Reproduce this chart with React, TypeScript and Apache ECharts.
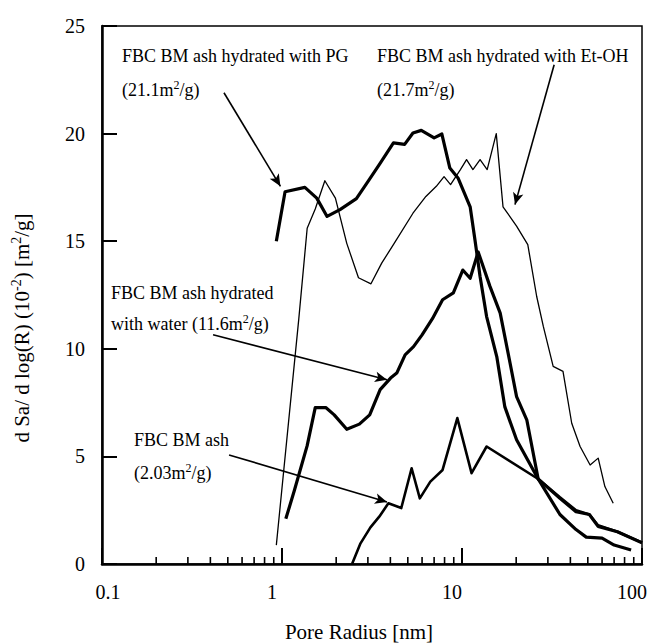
import React, { useEffect, useRef } from "react";
import * as echarts from "echarts";

// ---- data ----
const pgX = [0.93, 1.04, 1.34, 1.56, 1.78, 2.1, 2.59, 3.02, 3.5, 4.16, 4.8, 5.34, 5.94, 7.0, 7.73, 8.56, 9.5, 11.1, 11.8, 12.6, 13.7, 15.6, 17.3, 20.1, 26.5, 35, 43, 49, 60, 70, 87];
const pgY = [15.0, 17.3, 17.5, 17.0, 16.15, 16.47, 16.98, 17.8, 18.6, 19.57, 19.5, 20.03, 20.15, 19.8, 19.98, 18.4, 17.94, 16.6, 15.07, 13.36, 11.5, 9.64, 7.3, 5.77, 3.95, 2.3, 1.6, 1.25, 1.2, 0.88, 0.65];

const waterX = [1.05, 1.17, 1.38, 1.53, 1.75, 1.95, 2.29, 2.69, 3.07, 3.51, 4.01, 4.34, 4.83, 5.38, 6.0, 6.85, 7.8, 8.95, 10.1, 11.1, 12.3, 14.3, 16.3, 18.5, 20.1, 22.9, 26.5, 35, 43, 51, 57, 73, 100];
const waterY = [2.1, 3.4, 5.5, 7.27, 7.27, 6.93, 6.26, 6.5, 6.93, 8.1, 8.64, 8.87, 9.72, 10.1, 10.65, 11.4, 12.28, 12.6, 13.66, 13.28, 14.5, 12.9, 11.66, 9.33, 7.78, 6.7, 3.95, 3.05, 2.43, 2.3, 1.75, 1.5, 0.98];

const ashX = [2.45, 2.73, 3.1, 3.47, 3.9, 4.6, 5.25, 5.83, 6.67, 7.8, 9.42, 11.3, 13.7, 26.5, 35, 43, 51, 57, 73, 100];
const ashY = [0, 0.96, 1.7, 2.2, 2.82, 2.6, 4.45, 3.05, 3.83, 4.37, 6.78, 4.22, 5.46, 3.95, 3.1, 2.5, 2.3, 1.8, 1.5, 1.0];

const etohX = [0.93, 1.24, 1.38, 1.53, 1.73, 1.98, 2.29, 2.66, 3.12, 3.58, 4.2, 5.34, 6.3, 7.2, 7.95, 8.64, 9.8, 10.6, 11.5, 12.6, 13.8, 15.5, 16.9, 20.1, 23.2, 26, 28.3, 32.1, 36.4, 40.7, 45.3, 51.5, 57.1, 62.2, 69.2];
const etohY = [0.88, 11.4, 15.6, 16.5, 17.81, 17.0, 14.9, 13.3, 13.02, 13.98, 14.9, 16.3, 17.08, 17.55, 18.0, 17.63, 18.33, 18.79, 18.33, 18.79, 18.33, 20.0, 16.6, 15.7, 14.84, 12.43, 11.04, 9.18, 8.95, 6.54, 5.46, 4.6, 4.92, 3.6, 2.82];

const minorTickValues = [0.2, 0.3, 0.4, 0.5, 0.6, 0.7, 0.8, 0.9, 2, 3, 4, 5, 6, 7, 8, 9, 20, 30, 40, 50, 60, 70, 80, 90];

// annotation arrows: [fromX, fromY, toX, toY] in data units
const arrowPG = [0.476, 21.9, 0.98, 17.55];
const arrowEtOH = [32.5, 23.2, 19.7, 16.7];
const arrowWater = [0.414, 10.65, 3.83, 8.56];
const arrowAsh = [0.508, 5.07, 3.83, 2.88];

const FONT = "Liberation Serif, serif";

const zip = (xs: number[], ys: number[]) => xs.map((x, i) => [x, ys[i]]);

const richText = {
  a: { fontSize: 18, fontFamily: FONT, lineHeight: 22, fill: "#000" },
  s: { fontSize: 12, fontFamily: FONT, lineHeight: 12, verticalAlign: "top", fill: "#000" },
};

function txt(x: number, y: number, text: string) {
  return {
    type: "text",
    x,
    y,
    silent: true,
    style: {
      text,
      rich: richText,
      fill: "#000",
      fontFamily: FONT,
      fontSize: 18,
      verticalAlign: "middle",
      align: "left",
    },
  };
}

export default function App() {
  const ref = useRef<HTMLDivElement>(null);
  useEffect(() => {
    if (!ref.current) return;
    const chart = echarts.init(ref.current, null, { renderer: "svg" });
    const lineBase = (name: string, xs: number[], ys: number[], width: number) => ({
      name,
      type: "line",
      data: zip(xs, ys),
      symbol: "none",
      smooth: false,
      silent: true,
      lineStyle: { color: "#000", width, join: "round" },
      itemStyle: { color: "#000" },
      z: 3,
    });
    const arrows = [arrowPG, arrowEtOH, arrowWater, arrowAsh];
    const option: any = {
      animation: false,
      backgroundColor: "#fff",
      textStyle: { fontFamily: FONT },
      grid: {
        left: 102,
        top: 26,
        right: 14,
        bottom: 79,
        show: true,
        borderColor: "#000",
        borderWidth: 1.5,
        containLabel: false,
      },
      xAxis: {
        type: "log",
        logBase: 10,
        min: 0.1,
        max: 100,
        axisLine: { show: true, lineStyle: { color: "#000", width: 2.5 } },
        axisTick: { show: true, inside: true, length: 16, lineStyle: { color: "#000", width: 2 } },
        splitLine: { show: false },
        axisLabel: {
          margin: 18,
          color: "#000",
          fontFamily: FONT,
          fontSize: 20,
          formatter: (v: number) => (v < 0.5 ? "{l|0.1}" : "{r|" + Math.round(v) + "}"),
          rich: {
            l: { fontFamily: FONT, fontSize: 20, color: "#000", padding: [0, 0, 0, 12] },
            r: { fontFamily: FONT, fontSize: 20, color: "#000", padding: [0, 20, 0, 0] },
          },
        },
      },
      yAxis: {
        type: "value",
        min: 0,
        max: 25,
        interval: 5,
        axisLine: { show: true, lineStyle: { color: "#000", width: 2.5 } },
        axisTick: { show: true, inside: true, length: 15, lineStyle: { color: "#000", width: 2 } },
        splitLine: { show: false },
        axisLabel: { margin: 17, color: "#000", fontFamily: FONT, fontSize: 20 },
      },
      series: [
        {
          ...lineBase("FBC BM ash hydrated with PG", pgX, pgY, 3.2),
          markLine: {
            silent: true,
            symbol: ["none", "arrow"],
            symbolSize: [8, 12],
            label: { show: false },
            lineStyle: { color: "#000", width: 1.6, type: "solid" },
            data: arrows.map((a) => [{ coord: [a[0], a[1]] }, { coord: [a[2], a[3]] }]),
          },
        },
        lineBase("FBC BM ash hydrated with water", waterX, waterY, 3.2),
        lineBase("FBC BM ash", ashX, ashY, 2.6),
        lineBase("FBC BM ash hydrated with Et-OH", etohX, etohY, 1.3),
        {
          type: "custom",
          silent: true,
          clip: false,
          data: minorTickValues.map((v) => [v, 0]),
          encode: { x: 0, y: 1 },
          renderItem: (_params: any, api: any) => {
            const p = api.coord([api.value(0), 0]);
            return {
              type: "line",
              shape: { x1: p[0], y1: p[1], x2: p[0], y2: p[1] - 7 },
              style: { stroke: "#000", lineWidth: 1.6 },
            };
          },
          z: 4,
        },
      ],
      graphic: [
        txt(122, 56, "{a|FBC BM ash hydrated with PG}"),
        txt(122, 90, "{a|(21.1m}{s|2}{a|/g)}"),
        txt(377, 56, "{a|FBC BM ash hydrated with Et-OH}"),
        txt(377, 90, "{a|(21.7m}{s|2}{a|/g)}"),
        txt(111, 293, "{a|FBC BM ash hydrated}"),
        txt(111, 324, "{a|with water (11.6m}{s|2}{a|/g)}"),
        txt(134, 440, "{a|FBC BM ash}"),
        txt(134, 473, "{a|(2.03m}{s|2}{a|/g)}"),
        {
          type: "text",
          x: 359,
          y: 632,
          silent: true,
          style: {
            text: "Pore Radius [nm]",
            fill: "#000",
            fontFamily: FONT,
            fontSize: 21,
            align: "center",
            verticalAlign: "middle",
          },
        },
        {
          type: "text",
          x: 22,
          y: 328,
          rotation: Math.PI / 2,
          silent: true,
          style: {
            text: "{b|d Sa/ d log(R) (10}{t|-2}{b|) [m}{t|2}{b|/g]}",
            rich: {
              b: { fontSize: 21, fontFamily: FONT, lineHeight: 25, fill: "#000" },
              t: { fontSize: 14, fontFamily: FONT, lineHeight: 14, verticalAlign: "top", fill: "#000" },
            },
            fill: "#000",
            fontFamily: FONT,
            fontSize: 21,
            align: "center",
            verticalAlign: "middle",
          },
        },
      ],
    };
    chart.setOption(option);
    return () => chart.dispose();
  }, []);
  return (
    <div
      ref={ref}
      style={{ position: "absolute", left: 0, top: 0, width: 656, height: 643, background: "#fff" }}
    />
  );
}
